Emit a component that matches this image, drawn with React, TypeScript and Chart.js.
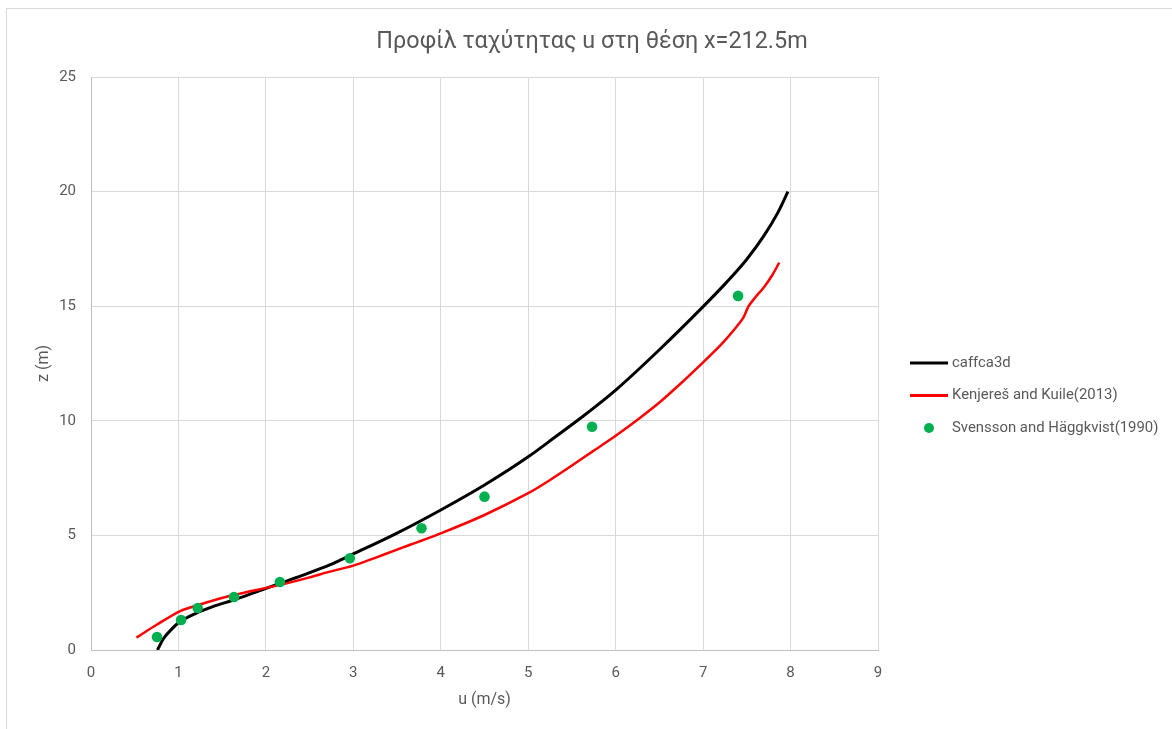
import { useEffect, useRef } from "react";
import { Chart, registerables } from "chart.js";

Chart.register(...registerables);

const FONT = "Roboto, 'Noto Sans', sans-serif";
const TEXT_COLOR = "#595959";

const chartTitle = "Προφίλ ταχύτητας u στη θέση x=212.5m";
const xAxisTitle = "u (m/s)";
const yAxisTitle = "z (m)";

const seriesNames = ["caffca3d", "Kenjereš and Kuile(2013)", "Svensson and Häggkvist(1990)"];
const seriesColors = ["#000000", "#ff0000", "#00b050"];

// caffca3d velocity profile
const caffcaU = [0.76, 0.83, 0.92, 1.02, 1.2, 1.4, 1.63, 1.9, 2.16, 2.45, 2.73, 3.0, 3.5, 4.0, 4.5, 5.0, 5.3, 5.6, 6.0, 6.5, 7.0, 7.27, 7.5, 7.7, 7.85, 7.97];
const caffcaZ = [0.0, 0.5, 0.9, 1.24, 1.6, 1.9, 2.18, 2.55, 2.91, 3.3, 3.71, 4.19, 5.1, 6.11, 7.2, 8.43, 9.27, 10.12, 11.34, 13.1, 14.98, 16.05, 17.05, 18.1, 19.05, 20.0];

// Kenjereš and Kuile (2013)
const kenjeresU = [0.52, 0.75, 1.02, 1.3, 1.63, 2.16, 2.5, 2.73, 3.0, 3.25, 3.5, 4.0, 4.5, 5.0, 5.25, 5.5, 5.75, 6.0, 6.25, 6.5, 6.75, 7.0, 7.2, 7.35, 7.46, 7.52, 7.6, 7.7, 7.79, 7.87];
const kenjeresZ = [0.54, 1.1, 1.7, 2.05, 2.4, 2.84, 3.17, 3.42, 3.68, 4.02, 4.38, 5.09, 5.89, 6.84, 7.42, 8.05, 8.7, 9.35, 10.05, 10.8, 11.65, 12.55, 13.3, 13.95, 14.5, 15.0, 15.4, 15.85, 16.35, 16.9];

// Svensson and Häggkvist (1990) measurements
const svenssonU = [0.755, 1.03, 1.22, 1.635, 2.16, 2.96, 3.78, 4.5, 5.73, 7.4];
const svenssonZ = [0.57, 1.31, 1.83, 2.31, 2.97, 4.0, 5.31, 6.69, 9.74, 15.45];

const xMin = 0;
const xMax = 9;
const xStep = 1;
const yMin = 0;
const yMax = 25;
const yStep = 5;

const toPoints = (xs: number[], ys: number[]) => xs.map((x, i) => ({ x, y: ys[i] }));

const decorPlugin = {
  id: "decor",
  beforeDraw(chart: Chart) {
    const ctx = chart.ctx;
    ctx.save();
    ctx.fillStyle = "#ffffff";
    ctx.fillRect(0, 0, chart.width, chart.height);
    ctx.strokeStyle = "#d9d9d9";
    ctx.lineWidth = 1;
    ctx.strokeRect(6.5, 8.5, chart.width + 20, chart.height + 20);
    ctx.restore();
  },
  afterDraw(chart: Chart) {
    const ctx = chart.ctx;
    ctx.save();
    // chart title
    ctx.fillStyle = TEXT_COLOR;
    ctx.font = `23.4px ${FONT}`;
    ctx.textAlign = "center";
    ctx.textBaseline = "middle";
    ctx.fillText(chartTitle, 592, 42);

    // legend
    const legendX = 910;
    const legendTop = 363;
    const rowGap = 32.5;
    ctx.font = `14.9px ${FONT}`;
    ctx.textAlign = "left";
    chart.data.datasets.forEach((ds: any, i: number) => {
      const y = legendTop + i * rowGap;
      if (ds.showLine === false) {
        ctx.beginPath();
        ctx.fillStyle = ds.backgroundColor;
        ctx.arc(legendX + 19, y, 5, 0, Math.PI * 2);
        ctx.fill();
      } else {
        ctx.beginPath();
        ctx.strokeStyle = ds.borderColor;
        ctx.lineWidth = 3;
        ctx.moveTo(legendX, y);
        ctx.lineTo(legendX + 38, y);
        ctx.stroke();
      }
      ctx.fillStyle = TEXT_COLOR;
      ctx.fillText(ds.label, legendX + 42, y);
    });
    ctx.restore();
  },
};

export default function App() {
  const canvasRef = useRef<HTMLCanvasElement | null>(null);

  useEffect(() => {
    document.body.style.margin = "0";
    const canvas = canvasRef.current;
    if (!canvas) return;

    const chart = new Chart(canvas, {
      type: "scatter",
      data: {
        datasets: [
          {
            label: seriesNames[0],
            data: toPoints(caffcaU, caffcaZ),
            showLine: true,
            borderColor: seriesColors[0],
            backgroundColor: seriesColors[0],
            borderWidth: 3,
            pointRadius: 0,
            cubicInterpolationMode: "monotone",
            order: 3,
          },
          {
            label: seriesNames[1],
            data: toPoints(kenjeresU, kenjeresZ),
            showLine: true,
            borderColor: seriesColors[1],
            backgroundColor: seriesColors[1],
            borderWidth: 2.5,
            pointRadius: 0,
            tension: 0.25,
            order: 2,
          },
          {
            label: seriesNames[2],
            data: toPoints(svenssonU, svenssonZ),
            showLine: false,
            borderColor: seriesColors[2],
            backgroundColor: seriesColors[2],
            borderWidth: 0,
            pointRadius: 5.3,
            order: 1,
          },
        ],
      },
      options: {
        animation: false,
        responsive: false,
        devicePixelRatio: 1,
        layout: { padding: { left: 0, top: 77, right: 294, bottom: 0 } },
        plugins: {
          legend: { display: false },
          title: { display: false },
          tooltip: { enabled: false },
        },
        scales: {
          x: {
            type: "linear",
            min: xMin,
            max: xMax,
            ticks: { stepSize: xStep, color: TEXT_COLOR, font: { family: FONT, size: 15 }, padding: 14 },
            grid: { color: "#d9d9d9", lineWidth: 1, drawTicks: false },
            border: { color: "#bfbfbf", width: 1 },
            title: { display: true, text: xAxisTitle, color: TEXT_COLOR, font: { family: FONT, size: 16 }, padding: { top: 0, bottom: 19 } },
            afterFit: (scale: any) => {
              scale.height = 79;
            },
          },
          y: {
            type: "linear",
            min: yMin,
            max: yMax,
            ticks: { stepSize: yStep, color: TEXT_COLOR, font: { family: FONT, size: 15 }, padding: 15 },
            grid: { color: "#d9d9d9", lineWidth: 1, drawTicks: false },
            border: { color: "#bfbfbf", width: 1 },
            title: { display: true, text: yAxisTitle, color: TEXT_COLOR, font: { family: FONT, size: 16 }, padding: { top: 34, bottom: 0 } },
            afterFit: (scale: any) => {
              scale.width = 91;
            },
          },
        },
      },
      plugins: [decorPlugin],
    } as any);

    return () => chart.destroy();
  }, []);

  return (
    <div style={{ width: 1172, height: 729, position: "relative" }}>
      <canvas ref={canvasRef} width={1172} height={729} style={{ display: "block" }} />
    </div>
  );
}
